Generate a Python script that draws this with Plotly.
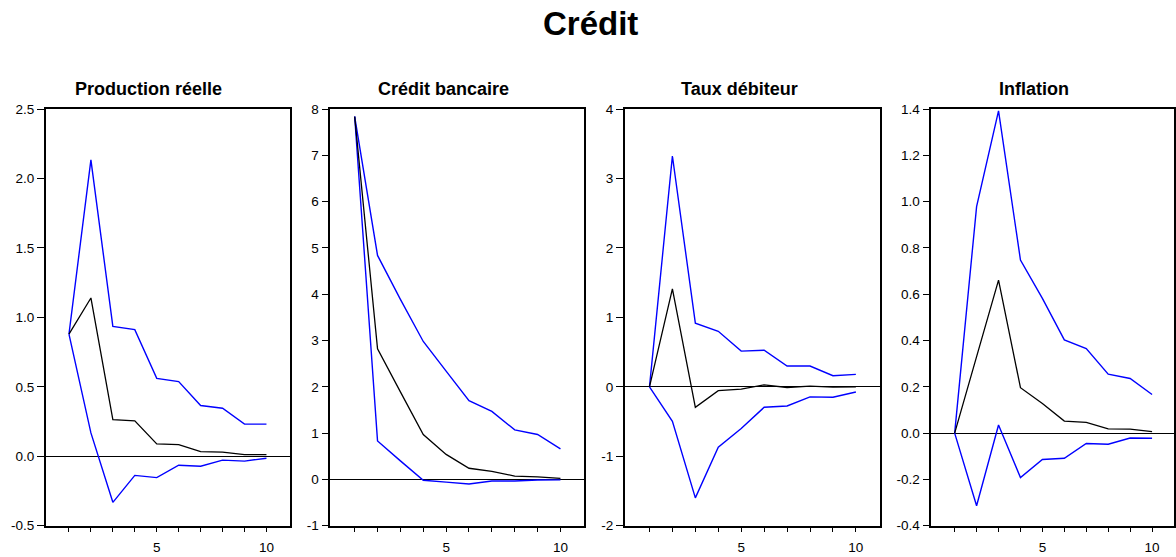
import plotly.graph_objects as go

W, H = 1176, 557

periods = list(range(1, 11))
panel_titles = ["Production réelle", "Crédit bancaire", "Taux débiteur", "Inflation"]
main_title = "Crédit"

# Production réelle
prod_resp = [0.88, 1.14, 0.264, 0.255, 0.089, 0.084, 0.033, 0.030, 0.012, 0.012]
prod_up = [0.88, 2.135, 0.935, 0.912, 0.561, 0.538, 0.365, 0.346, 0.231, 0.231]
prod_lo = [0.88, 0.168, -0.332, -0.138, -0.154, -0.065, -0.072, -0.028, -0.035, -0.014]

# Crédit bancaire
cred_resp = [7.84, 2.82, 1.89, 0.97, 0.54, 0.24, 0.175, 0.07, 0.056, 0.02]
cred_up = [7.84, 4.84, 3.89, 2.98, 2.34, 1.70, 1.47, 1.07, 0.97, 0.66]
cred_lo = [7.84, 0.83, 0.40, -0.02, -0.06, -0.10, -0.035, -0.035, -0.015, -0.01]

# Taux débiteur
taux_resp = [0.0, 1.41, -0.295, -0.056, -0.033, 0.028, -0.01, 0.01, -0.005, 0.0]
taux_up = [0.0, 3.325, 0.917, 0.80, 0.514, 0.528, 0.30, 0.30, 0.16, 0.18]
taux_lo = [0.0, -0.496, -1.60, -0.87, -0.60, -0.295, -0.276, -0.145, -0.15, -0.075]

# Inflation
infl_resp = [0.0, 0.33, 0.661, 0.196, 0.128, 0.052, 0.046, 0.018, 0.017, 0.006]
infl_up = [0.0, 0.979, 1.393, 0.748, 0.582, 0.403, 0.365, 0.255, 0.236, 0.167]
infl_lo = [0.0, -0.314, 0.035, -0.192, -0.114, -0.109, -0.045, -0.048, -0.021, -0.022]

x_tickvals = periods
x_ticktext = ["", "", "", "", "5", "", "", "", "", "10"]

y_tickvals = [
    [-0.5, 0.0, 0.5, 1.0, 1.5, 2.0, 2.5],
    [-1, 0, 1, 2, 3, 4, 5, 6, 7, 8],
    [-2, -1, 0, 1, 2, 3, 4],
    [-0.4, -0.2, 0.0, 0.2, 0.4, 0.6, 0.8, 1.0, 1.2, 1.4],
]
y_ticktext = [
    ["-0.5", "0.0", "0.5", "1.0", "1.5", "2.0", "2.5"],
    ["-1", "0", "1", "2", "3", "4", "5", "6", "7", "8"],
    ["-2", "-1", "0", "1", "2", "3", "4"],
    ["-0.4", "-0.2", "0.0", "0.2", "0.4", "0.6", "0.8", "1.0", "1.2", "1.4"],
]

panels = [
    (prod_resp, prod_up, prod_lo),
    (cred_resp, cred_up, cred_lo),
    (taux_resp, taux_up, taux_lo),
    (infl_resp, infl_up, infl_lo),
]

# layout geometry (pixels)
x_domains_px = [(46, 290), (331, 585), (626, 881), (933, 1176)]
x_ranges = [[-0.05, 11.05], [-0.06, 11.03], [-0.07, 11.03], [-0.06, 11.0]]
y_top_px, y_bot_px = 105, 533
title_centers_px = [149, 444.5, 741, 1035.5]

fig = go.Figure()

font_family = "Liberation Sans, Arial, sans-serif"

layout = dict(
    width=W, height=H,
    margin=dict(l=0, r=0, t=0, b=0),
    paper_bgcolor="white", plot_bgcolor="white",
    showlegend=False,
    font=dict(family=font_family, color="black"),
)

annotations = []
for i, (resp, up, lo) in enumerate(panels):
    n = i + 1
    xa = "x" if n == 1 else f"x{n}"
    ya = "y" if n == 1 else f"y{n}"
    for series, color, w in ((up, "#0000FF", 1.4), (lo, "#0000FF", 1.4), (resp, "black", 1.3)):
        fig.add_trace(go.Scatter(x=periods, y=series, mode="lines",
                                 line=dict(color=color, width=w),
                                 xaxis=xa, yaxis=ya, hoverinfo="skip"))
    x0, x1 = x_domains_px[i]
    xkey = "xaxis" if n == 1 else f"xaxis{n}"
    ykey = "yaxis" if n == 1 else f"yaxis{n}"
    layout[xkey] = dict(
        domain=[x0 / W, min(x1 / W, 1.0)], range=x_ranges[i], anchor=ya,
        tickmode="array", tickvals=x_tickvals, ticktext=x_ticktext,
        ticks="outside", ticklen=5, tickwidth=1.3, tickcolor="black",
        ticklabelstandoff=3,
        showline=True, linecolor="black", linewidth=1.7, mirror=True,
        showgrid=False, zeroline=False,
        tickfont=dict(size=13.5, color="black", family=font_family),
        fixedrange=True,
    )
    yr = y_tickvals[i]
    layout[ykey] = dict(
        domain=[1 - y_bot_px / H, 1 - y_top_px / H], range=[yr[0], yr[-1]], anchor=xa,
        tickmode="array", tickvals=y_tickvals[i], ticktext=y_ticktext[i],
        ticks="outside", ticklen=7, tickwidth=1.3, tickcolor="black",
        showline=True, linecolor="black", linewidth=1.7, mirror=True,
        showgrid=False, zeroline=True, zerolinecolor="black", zerolinewidth=1.3,
        tickfont=dict(size=13.5, color="black", family=font_family),
        fixedrange=True,
    )
    annotations.append(dict(
        text=f"<b>{panel_titles[i]}</b>", x=title_centers_px[i] / W, y=1 - 84 / H,
        xref="paper", yref="paper", xanchor="center", yanchor="middle",
        showarrow=False, font=dict(size=18, color="black", family=font_family),
    ))

annotations.append(dict(
    text=f"<b>{main_title}</b>", x=592 / W, y=1 - 17 / H,
    xref="paper", yref="paper", xanchor="center", yanchor="middle",
    showarrow=False, font=dict(size=33, color="black", family=font_family),
))
layout["annotations"] = annotations

fig.update_layout(**layout)

fig.write_html("out.html", config={"displayModeBar": False},
               post_script="document.body.style.margin='0';")
